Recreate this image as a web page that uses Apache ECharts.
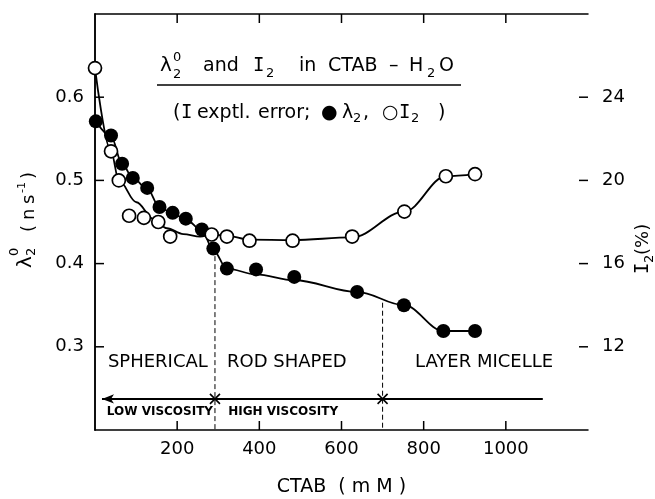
<!DOCTYPE html>
<html>
<head>
<meta charset="utf-8">
<script src="https://cdn.jsdelivr.net/npm/echarts@6/dist/echarts.min.js"></script>
<style>
  html, body { margin: 0; background: #fff; }
  #chart { width: 655px; height: 499px; }
</style>
</head>
<body>
<div id="chart"></div>
<script>
// measured points, CTAB (mM)
var lambdaX = [2, 39, 66, 92, 127, 157, 189, 221, 260, 288, 321, 392, 485, 638, 752, 848, 925];
var lambdaY = [0.571, 0.554, 0.520, 0.503, 0.491, 0.468, 0.461, 0.454, 0.441, 0.418, 0.394, 0.393, 0.384, 0.366, 0.350, 0.319, 0.319];
var i2X = [0, 39, 58, 83, 119, 154, 183, 284, 321, 376, 481, 626, 753, 854, 925];
var i2Y = [25.4, 21.4, 20.0, 18.3, 18.2, 18.0, 17.3, 17.4, 17.3, 17.1, 17.1, 17.3, 18.5, 20.2, 20.3];

// hand drawn curves
var lambdaFitX = [2, 39, 66, 92, 127, 157, 189, 221, 260, 288, 321, 392, 485, 638, 752, 848, 925];
var lambdaFitY = [0.571, 0.553, 0.520, 0.503, 0.490, 0.468, 0.460, 0.453, 0.440, 0.416, 0.394, 0.387, 0.380, 0.366, 0.350, 0.319, 0.319];
var i2FitX = [0, 39, 58, 101, 142, 175, 215, 256, 284, 321, 376, 481, 626, 753, 854, 925];
var i2FitY = [25.4, 21.4, 20.0, 18.95, 18.15, 17.7, 17.42, 17.3, 17.4, 17.34, 17.15, 17.13, 17.26, 18.5, 20.2, 20.3];

// tick positions
var xTicks = [200, 400, 600, 800, 1000];
var yTicks = [0.3, 0.4, 0.5, 0.6];

// phase boundaries
var boundaryX = [292, 700];
var boundaryTop = [0.409, 0.353];
var arrowY = 0.2374;
var arrowFrom = 1090, arrowTo = 17;

var regionNames = ['SPHERICAL', 'ROD SHAPED', 'LAYER MICELLE'];
var regionX = [153, 467, 947];
var regionY = 0.281;
var viscNames = ['LOW VISCOSITY', 'HIGH VISCOSITY'];
var viscX = [158, 458];
var viscY = 0.2217;

var FONT = '"DejaVu Sans", "Liberation Sans", sans-serif';
var MONO = '"DejaVu Sans Mono", monospace';
var INK = '#000';
var TICK = 9;

function zip(a, b) { return a.map(function (v, i) { return [v, b[i]]; }); }
function axLine() { return { show: true, lineStyle: { color: INK, width: 1.5 } }; }
function txt(s, x, y, size, fam) {
  return { type: 'text', style: { text: s, x: x, y: y, font: size + 'px ' + (fam || FONT), fill: INK, textVerticalAlign: 'middle' } };
}
function seg(x1, y1, x2, y2) {
  return { type: 'line', shape: { x1: x1, y1: y1, x2: x2, y2: y2 }, style: { stroke: INK, lineWidth: 1.5 } };
}

var chart = echarts.init(document.getElementById('chart'));

var dashed = boundaryX.map(function (x, i) {
  return {
    type: 'line', yAxisIndex: 0, silent: true, symbol: 'none',
    data: [[x, boundaryTop[i]], [x, 0.2]],
    lineStyle: { color: INK, width: 1, type: [5, 3] }, z: 1
  };
});

// inward ticks on all four sides of the frame
var tickData = xTicks.map(function (x) { return [x, 0]; })
  .concat(yTicks.map(function (y) { return [y, 1]; }));
var tickSeries = {
  type: 'custom', yAxisIndex: 0, silent: true, z: 7,
  data: tickData,
  encode: { x: -1, y: -1 },
  renderItem: function (params, api) {
    var v = api.value(0);
    if (api.value(1) === 0) {
      var b = api.coord([v, 0.2]), t = api.coord([v, 0.7]);
      return { type: 'group', children: [seg(b[0], b[1], b[0], b[1] - TICK), seg(t[0], t[1], t[0], t[1] + TICK)] };
    }
    var l = api.coord([0, v]), r = api.coord([1200, v]);
    return { type: 'group', children: [seg(l[0], l[1], l[0] + TICK, l[1]), seg(r[0], r[1], r[0] - TICK, r[1])] };
  }
};

function textSeries(names, xs, y, size, weight) {
  return {
    type: 'scatter', yAxisIndex: 0, silent: true, symbolSize: 0,
    itemStyle: { opacity: 1 },
    data: names.map(function (n, i) { return { name: n, value: [xs[i], y] }; }),
    label: { show: true, position: 'inside', formatter: '{b}', opacity: 1,
      color: INK, fontFamily: FONT, fontSize: size, fontWeight: weight || 'normal' }
  };
}

var option = {
  animation: false,
  backgroundColor: '#fff',
  grid: { left: 95, right: 67, top: 14, bottom: 69, show: false, outerBoundsMode: 'none', containLabel: false },
  xAxis: [{
    type: 'value', min: 0, max: 1200, interval: 200, position: 'bottom',
    axisLine: axLine(), axisTick: { show: false }, splitLine: { show: false },
    axisLabel: { color: INK, fontFamily: FONT, fontSize: 18, margin: 10,
      formatter: function (v) { return (v === 0 || v === 1200) ? '' : v; } },
    name: 'CTAB  ( m M )', nameLocation: 'middle', nameGap: 48,
    nameTextStyle: { color: INK, fontFamily: FONT, fontSize: 19 }
  }, {
    type: 'value', min: 0, max: 1200, interval: 200, position: 'top',
    axisLine: axLine(), axisTick: { show: false }, splitLine: { show: false },
    axisLabel: { show: false }
  }],
  yAxis: [{
    type: 'value', min: 0.2, max: 0.7, interval: 0.1, position: 'left',
    axisLine: axLine(), axisTick: { show: false }, splitLine: { show: false },
    axisLabel: { color: INK, fontFamily: FONT, fontSize: 18, margin: 11,
      formatter: function (v) { return (v < 0.25 || v > 0.65) ? '' : v.toFixed(1); } }
  }, {
    type: 'value', min: 8, max: 28, interval: 4, position: 'right',
    axisLine: axLine(), axisTick: { show: false }, splitLine: { show: false },
    axisLabel: { color: INK, fontFamily: FONT, fontSize: 18, margin: 14,
      formatter: function (v) { return (v === 8 || v === 28) ? '' : v; } }
  }],
  series: [{
    name: 'I2 curve', type: 'line', yAxisIndex: 1, data: zip(i2FitX, i2FitY),
    showSymbol: false, smooth: 0.35, smoothMonotone: 'x',
    lineStyle: { color: INK, width: 1.8 }, z: 2
  }, {
    name: 'lambda curve', type: 'line', yAxisIndex: 0, data: zip(lambdaFitX, lambdaFitY),
    showSymbol: false, smooth: 0.35, smoothMonotone: 'x',
    lineStyle: { color: INK, width: 1.8 }, z: 2
  }].concat(dashed).concat([tickSeries, {
    type: 'line', yAxisIndex: 0, data: [], silent: true,
    markLine: {
      silent: true, symbol: ['arrow', 'none'], symbolSize: [7, 12],
      label: { show: false },
      lineStyle: { color: INK, width: 1.8, type: 'solid', opacity: 1 },
      data: [[{ coord: [arrowTo, arrowY] }, { coord: [arrowFrom, arrowY] }]]
    }
  }, {
    name: 'λ2', type: 'scatter', yAxisIndex: 0, data: zip(lambdaX, lambdaY),
    symbol: 'circle', symbolSize: 14, itemStyle: { color: INK, opacity: 1 }, z: 4
  }, {
    name: 'I2', type: 'scatter', yAxisIndex: 1, data: zip(i2X, i2Y),
    symbol: 'circle', symbolSize: 13,
    itemStyle: { color: '#fff', borderColor: INK, borderWidth: 1.7, opacity: 1 }, z: 5
  }, {
    type: 'scatter', yAxisIndex: 0, silent: true,
    data: boundaryX.map(function (x) { return [x, arrowY]; }),
    symbol: 'path://M0,0L10,10M10,0L0,10', symbolSize: 10,
    itemStyle: { color: 'none', borderColor: INK, borderWidth: 1.6, opacity: 1 }, z: 6
  },
  textSeries(regionNames, regionX, regionY, 18),
  textSeries(viscNames, viscX, viscY, 12, 'bold')]),
  graphic: [
    // title
    txt('λ', 160, 66, 20), txt('0', 173, 58, 13), txt('2', 173, 75, 13),
    txt('and', 203, 66, 19),
    txt('I', 253, 66, 19, MONO), txt('2', 266, 74, 13),
    txt('in', 299, 66, 19),
    txt('CTAB', 328, 66, 19),
    txt('–', 389, 66, 19),
    txt('H', 409, 66, 19), txt('2', 427, 74, 13), txt('O', 439, 66, 19),
    { type: 'line', shape: { x1: 157, y1: 85, x2: 461, y2: 85 }, style: { stroke: INK, lineWidth: 1.5 } },
    // key line
    txt('(', 173, 113, 19), txt('I', 181, 113, 19, MONO),
    txt('exptl.', 197, 113, 19), txt('error;', 258, 113, 19),
    txt('●', 321, 113, 19), txt('λ', 342, 113, 19), txt('2', 353, 119, 13), txt(',', 363, 113, 19),
    txt('○', 382, 113, 19), txt('I', 399, 113, 19, MONO), txt('2', 411, 119, 13),
    txt(')', 438, 113, 19),
    // left axis name, rotated
    { type: 'group', x: 26, y: 268, rotation: Math.PI / 2, children: [
      txt('λ', 0, 0, 20), txt('0', 12, -11, 13), txt('2', 12, 6, 13),
      txt('(', 36, 3, 18), txt('n', 48, 3, 18), txt('s', 64, 3, 18), txt('-1', 75, -4, 11), txt(')', 89, 3, 18)
    ] },
    // right axis name, rotated
    { type: 'group', x: 643, y: 274, rotation: Math.PI / 2, children: [
      txt('I', 0, 0, 19, MONO), txt('2', 11, 7, 13), txt('(%)', 19, 0, 18)
    ] }
  ]
};

chart.setOption(option);
</script>
</body>
</html>
